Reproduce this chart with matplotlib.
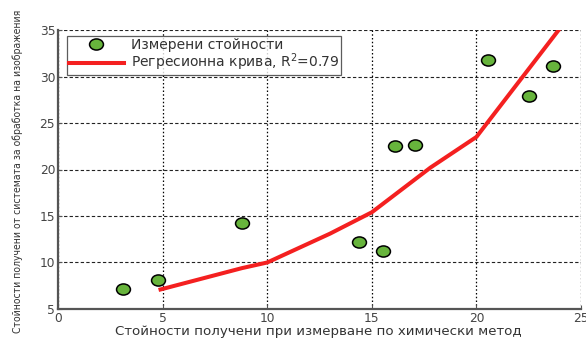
import matplotlib
matplotlib.use('Agg')
import matplotlib.pyplot as plt
from matplotlib.path import Path
from matplotlib.transforms import Affine2D

# Измерени стойности (химичен метод / обработка на изображения)
x_izm = [3.1, 4.8, 8.8, 14.4, 15.55, 16.1, 17.05, 20.55, 22.5, 23.65]
y_izm = [7.15, 8.1, 14.3, 12.25, 11.25, 22.55, 22.6, 31.75, 27.9, 31.1]

# Регресионна крива
x_reg = [4.9, 8.8, 10.0, 13.0, 15.0, 17.8, 20.0, 24.0]
y_reg = [7.1, 9.4, 10.0, 13.1, 15.4, 20.2, 23.5, 35.2]

x_ticks = [0, 5, 10, 15, 20, 25]
y_ticks = [5, 10, 15, 20, 25, 30, 35]

# малко сплескан кръг за маркерите
elipsa = Path.unit_circle().transformed(Affine2D().scale(1.25, 1.0))

fig = plt.figure(figsize=(5.86, 3.39), dpi=100)
ax = fig.add_axes([0.099, 0.0885, 0.8925, 0.823])

ax.plot(x_reg, y_reg, color='#f42020', lw=2.9, zorder=3,
        label='Регресионна крива, R$^2$=0.79')
ax.plot(x_izm, y_izm, ls='none', marker=elipsa, ms=10, mfc='#67b43c',
        mec='black', mew=1.1, zorder=4, label='Измерени стойности')

ax.set_xlim(0, 25)
ax.set_ylim(5, 35)
ax.set_xticks(x_ticks)
ax.set_yticks(y_ticks)
# вертикалните линии са на точки, хоризонталните - на чертички
ax.xaxis.grid(True, color='black', ls=(0, (1.2, 1.8)), lw=0.9)
ax.yaxis.grid(True, color='#222222', ls=(0, (3, 2)), lw=0.8)
ax.set_axisbelow(True)

for s in ['top', 'right']:
    ax.spines[s].set_visible(False)
for s in ['left', 'bottom']:
    ax.spines[s].set_color('#555555')
    ax.spines[s].set_linewidth(1.6)

ax.tick_params(direction='in', length=3, colors='#555555', labelsize=8.8,
               labelcolor='#444444', pad=2)

ax.set_xlabel('Стойности получени при измерване по химически метод',
              fontsize=9.6, color='#333333')
ax.xaxis.set_label_coords(0.497, -0.079)
ax.xaxis.label.set_va('center')
ax.set_ylabel('Стойности получени от системата за обработка на изображения',
              fontsize=7.5, color='#333333', fontstretch='condensed')
ax.yaxis.set_label_coords(-0.078, 0.495)
ax.yaxis.label.set_va('center')

h, l = ax.get_legend_handles_labels()
leg = ax.legend(h[::-1], l[::-1], loc='upper left', bbox_to_anchor=(0.017, 0.978),
                prop={'size': 10}, fancybox=False, edgecolor='#333333',
                borderpad=0.12, labelspacing=0.0, handlelength=4.0,
                handletextpad=0.5, borderaxespad=0)
leg.get_frame().set_linewidth(0.9)
for t in leg.get_texts():
    t.set_color('#333333')

fig.savefig('out.png', dpi=100)
